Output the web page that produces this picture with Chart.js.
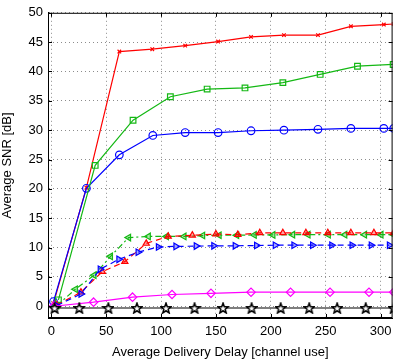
<!DOCTYPE html>
<html>
<head>
<meta charset="utf-8">
<script src="https://cdn.jsdelivr.net/npm/chart.js@4"></script>
<style>
  html, body { margin: 0; padding: 0; background: #fff; }
  #wrap { width: 398px; height: 360px; }
</style>
</head>
<body>
<div id="wrap"><canvas id="snr-chart"></canvas></div>
<script>
// solid curves
const redX = [2, 32, 62, 92, 122, 152, 182, 212, 243, 273, 303, 312];
const redY = [0.5, 20.2, 43.4, 43.8, 44.4, 45.1, 45.9, 46.2, 46.2, 47.7, 48.0, 48.1];
const greenX = [6.5, 40, 74.5, 108.5, 142, 176.5, 211, 245, 279, 311.5];
const greenY = [1.1, 24.0, 31.7, 35.7, 37.0, 37.2, 38.1, 39.5, 40.9, 41.2];
const blueX = [2, 32, 62, 92.5, 122, 152, 182, 212, 243, 273, 303, 312];
const blueY = [0.8, 20.1, 25.8, 29.1, 29.6, 29.6, 29.9, 30.0, 30.15, 30.3, 30.3, 30.3];

// dashed curves
const redDashX = [5, 27, 46.5, 67, 86.5, 106.5, 128.5, 150, 170, 190, 211, 232, 252, 273, 294, 312];
const redDashY = [0.2, 2.4, 5.9, 7.6, 10.7, 11.9, 12.1, 12.3, 12.2, 12.5, 12.5, 12.5, 12.5, 12.5, 12.5, 12.5];
const greenDashX = [5, 22, 39, 54, 70.5, 88.5, 105, 121, 138, 153, 169, 185, 202, 220, 234, 252.5, 267.5, 285.5, 300.5, 312];
const greenDashY = [0.1, 2.9, 5.3, 8.5, 11.7, 11.9, 11.9, 11.9, 12.05, 12.1, 12.1, 12.15, 12.15, 12.2, 12.2, 12.2, 12.2, 12.2, 12.2, 12.2];
const blueDashX = [5, 27, 44.5, 61.5, 79, 97.5, 113.5, 132, 148, 167.5, 187, 204, 221, 238, 255.5, 274, 291.5, 308];
const blueDashY = [0.1, 2.1, 6.3, 8.0, 9.2, 10.1, 10.2, 10.25, 10.3, 10.3, 10.35, 10.4, 10.4, 10.4, 10.4, 10.4, 10.4, 10.4];

// bottom curves
const magentaX = [2, 38.5, 74, 110, 145.5, 182, 218, 254, 289.5, 312];
const magentaY = [0.0, 0.7, 1.55, 2.0, 2.2, 2.4, 2.4, 2.4, 2.4, 2.4];
const blackX = [3, 25.5, 52, 78, 104.5, 130.5, 156.5, 182.5, 209, 235, 260.5, 286.5, 312];
const blackY = [-0.3, -0.3, -0.3, -0.3, -0.3, -0.3, -0.3, -0.3, -0.3, -0.3, -0.3, -0.3, -0.3];

const xTicks = [0, 50, 100, 150, 200, 250, 300];
const yTicks = [0, 5, 10, 15, 20, 25, 30, 35, 40, 45, 50];

const pts = (xs, ys) => xs.map((x, i) => ({ x: x, y: ys[i] }));

// pentagram marker
function makeStar(size) {
  const c = document.createElement("canvas");
  c.width = size; c.height = size;
  const g = c.getContext("2d");
  const cx = size / 2, cy = size / 2 + 0.5, R = size / 2 - 0.6, r = R * 0.42;
  g.beginPath();
  for (let i = 0; i < 10; i++) {
    const rad = i % 2 === 0 ? R : r;
    const a = -Math.PI / 2 + i * Math.PI / 5;
    const px = cx + rad * Math.cos(a), py = cy + rad * Math.sin(a);
    if (i === 0) g.moveTo(px, py); else g.lineTo(px, py);
  }
  g.closePath();
  g.fillStyle = "#fff";
  g.fill();
  g.lineWidth = 1.5;
  g.strokeStyle = "#000";
  g.stroke();
  return c;
}
const starImg = makeStar(12);

const GREEN = "#14b814";

function series(xs, ys, color, style, extra) {
  return Object.assign({
    data: pts(xs, ys),
    borderColor: color,
    backgroundColor: "rgba(255,255,255,0)",
    borderWidth: 1.2,
    pointStyle: style,
    pointRadius: 3.5,
    pointBorderColor: color,
    pointBorderWidth: 1.2,
    pointBackgroundColor: "rgba(255,255,255,0)",
    tension: 0,
    fill: false
  }, extra || {});
}

// box with inward tick marks, like the original figure
const boxTicks = {
  id: "boxTicks",
  afterDatasetsDraw(chart) {
    const { ctx, chartArea: a, scales } = chart;
    ctx.save();
    ctx.strokeStyle = "#000";
    ctx.lineWidth = 1;
    ctx.strokeRect(a.left + 0.5, a.top + 0.5, a.right - a.left - 1, a.bottom - a.top - 1);
    ctx.beginPath();
    xTicks.forEach(v => {
      const px = Math.round(scales.x.getPixelForValue(v)) + 0.5;
      ctx.moveTo(px, a.bottom); ctx.lineTo(px, a.bottom - 4);
      ctx.moveTo(px, a.top); ctx.lineTo(px, a.top + 4);
    });
    yTicks.forEach(v => {
      const py = Math.round(scales.y.getPixelForValue(v)) + 0.5;
      ctx.moveTo(a.left, py); ctx.lineTo(a.left + 4, py);
      ctx.moveTo(a.right, py); ctx.lineTo(a.right - 4, py);
    });
    ctx.stroke();
    ctx.restore();
  }
};

const font = { family: "'Liberation Sans', Arial, sans-serif", size: 13 };

new Chart(document.getElementById("snr-chart"), {
  type: "line",
  data: {
    datasets: [
      series(blackX, blackY, "#000", starImg, { borderWidth: 1.2 }),
      series(magentaX, magentaY, "#ff00ff", "rectRot", { pointRadius: 4.2 }),
      series(blueDashX, blueDashY, "#0000ff", "triangle", { borderDash: [6, 4], pointRotation: 90, pointRadius: 3.8, pointBackgroundColor: "rgba(0,0,255,0.35)" }),
      series(redDashX, redDashY, "#ff0000", "triangle", { borderDash: [6, 4], pointRadius: 3.6, pointBackgroundColor: "rgba(255,0,0,0.35)" }),
      series(greenDashX, greenDashY, GREEN, "triangle", { borderDash: [6, 3, 2, 3], pointRotation: -90, pointRadius: 3.8, pointBackgroundColor: "rgba(20,184,20,0.35)" }),
      series(greenX, greenY, GREEN, "rect", { pointRadius: 4 }),
      series(blueX, blueY, "#0000ff", "circle", { pointRadius: 3.8 }),
      series(redX, redY, "#ff0000", "crossRot", { pointRadius: 2.5 })
    ]
  },
  options: {
    responsive: true,
    maintainAspectRatio: false,
    animation: false,
    layout: { padding: { top: 8, right: 1, left: 0, bottom: 0 } },
    plugins: { legend: { display: false }, tooltip: { enabled: false } },
    scales: {
      x: {
        type: "linear",
        min: -3,
        max: 311,
        afterBuildTicks: s => { s.ticks = xTicks.map(v => ({ value: v })); },
        afterFit: s => { s.height = 42; },
        grid: { color: "#8c8c8c", lineWidth: 1, drawTicks: false },
        border: { display: true, color: "#000", dash: [1, 3] },
        ticks: { color: "#000", font: font, padding: 6, maxRotation: 0 },
        title: { display: true, text: "Average Delivery Delay [channel use]", color: "#000", font: font, padding: { top: 1, bottom: 0 } }
      },
      y: {
        type: "linear",
        min: -2,
        max: 50,
        afterBuildTicks: s => { s.ticks = yTicks.map(v => ({ value: v })); },
        afterFit: s => { s.width = 48; },
        grid: { color: "#8c8c8c", lineWidth: 1, drawTicks: false },
        border: { display: true, color: "#000", dash: [1, 3] },
        ticks: { color: "#000", font: font, padding: 5 },
        title: { display: true, text: "Average SNR [dB]", color: "#000", font: font, padding: { top: 0, bottom: 2 } }
      }
    }
  },
  plugins: [boxTicks]
});
</script>
</body>
</html>
